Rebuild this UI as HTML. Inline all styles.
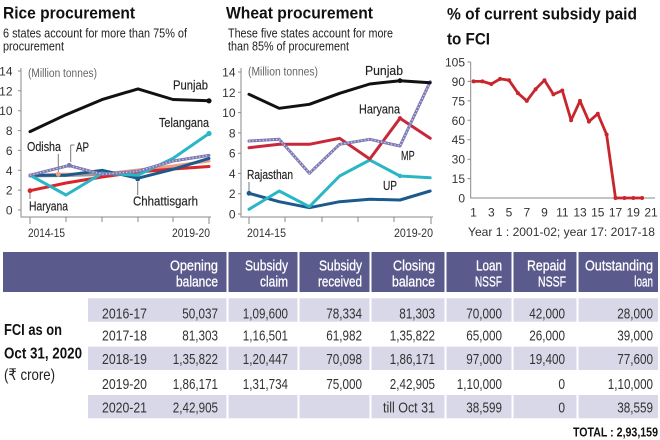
<!DOCTYPE html>
<html><head><meta charset="utf-8">
<style>
html,body{margin:0;padding:0;background:#fff;}
svg{display:block;}
text{font-family:"Liberation Sans","DejaVu Sans",sans-serif;}
.t{font-weight:bold;fill:#111;font-size:17px;}
.s{fill:#222;font-size:12.5px;}
.lb{fill:#222;font-size:13px;stroke:#222;stroke-width:0.15;}
.tk{fill:#333;font-size:12px;}
.mu{fill:#666;font-size:11.5px;}
.hd{fill:#fff;font-size:15px;stroke:#fff;stroke-width:0.3;}
.td{fill:#333;font-size:15px;}
.ax{stroke:#8a8a8a;stroke-width:1;fill:none;}
.ln{fill:none;stroke-width:3;stroke-linejoin:round;stroke-linecap:round;}
</style></head>
<body>
<svg width="660" height="440" viewBox="0 0 660 440" xmlns="http://www.w3.org/2000/svg">
<rect width="660" height="440" fill="#fff"/>

<!-- ============ RICE ============ -->
<text class="t" x="3" y="18.5" textLength="132" lengthAdjust="spacingAndGlyphs">Rice procurement</text>
<text class="s" x="3" y="37.5" textLength="184" lengthAdjust="spacingAndGlyphs">6 states account for more than 75% of</text>
<text class="s" x="3" y="50.5" textLength="61" lengthAdjust="spacingAndGlyphs">procurement</text>

<g class="tk" text-anchor="end">
<text x="12.5" y="75.5">14</text>
<text x="12.5" y="95.3">12</text>
<text x="12.5" y="115.2">10</text>
<text x="12.5" y="135.1">8</text>
<text x="12.5" y="154.9">6</text>
<text x="12.5" y="174.8">4</text>
<text x="12.5" y="194.6">2</text>
<text x="12.5" y="214.5">0</text>
</g>
<path class="ax" d="M21 68V217H211M18 71H21M18 90.8H21M18 110.7H21M18 130.6H21M18 150.4H21M18 170.3H21M18 190.1H21M18 210H21M30 217V224M66 217V222M102 217V222M138 217V222M173 217V222M209 217V224"/>
<text class="mu" x="28" y="77" textLength="69" lengthAdjust="spacingAndGlyphs">(Million tonnes)</text>
<text class="tk" x="28" y="237" textLength="37" lengthAdjust="spacingAndGlyphs">2014-15</text>
<text class="tk" x="210" y="237" text-anchor="end" textLength="38" lengthAdjust="spacingAndGlyphs">2019-20</text>

<path d="M58.3 154V172M70.7 145V162M70.7 145H74.5M137.7 182V195M30 193V199" stroke="#777" stroke-width="1" fill="none"/>

<polyline class="ln" stroke="#e9a088" points="30,176 58,174.3 102,174 138,170 173,166 209,161"/>
<polyline class="ln" stroke="#999" points="30,176 66,175.5 102,174.5"/>
<polyline class="ln" stroke="#d8262c" points="30,190.7 66,183 102,177 138,172 173,169 209,166.5"/>
<polyline class="ln" stroke="#1d5a8c" points="30,175.2 66,175.2 102,170.3 138,178.2 173,169.3 209,158.4"/>
<polyline class="ln" stroke="#2bb6c6" points="30,175.2 66,195 102,173.3 138,175.2 173,158.4 209,133.5"/>
<polyline class="ln" stroke="#7d79b3" stroke-width="3.2" points="30,175.2 69,165.5 102,174.3 138,171.3 173,161 209,155.4"/>
<polyline fill="none" stroke="#d6d4ea" stroke-width="1.3" stroke-dasharray="1.2 2.2" points="30,175.2 69,165.5 102,174.3 138,171.3 173,161 209,155.4"/>
<polyline class="ln" stroke="#111" points="30,131.6 66,114.7 102,99.6 138,88.9 173,99.5 209,100.8"/>
<circle cx="209" cy="100.8" r="2.6" fill="#111"/>
<circle cx="209" cy="133.5" r="2.6" fill="#2bb6c6"/>
<circle cx="30" cy="190.7" r="2.4" fill="#d8262c"/>
<circle cx="58.3" cy="174.3" r="2.4" fill="#e9a088"/>
<circle cx="69.3" cy="165.3" r="2.4" fill="#7d79b3"/>
<circle cx="137.7" cy="179" r="2.4" fill="#1d5a8c"/>

<text class="lb" x="173" y="89.5" textLength="35" lengthAdjust="spacingAndGlyphs">Punjab</text>
<text class="lb" x="159" y="127" textLength="50" lengthAdjust="spacingAndGlyphs">Telangana</text>
<text class="lb" x="27" y="151" textLength="34" lengthAdjust="spacingAndGlyphs">Odisha</text>
<text class="lb" transform="translate(76,151.5) scale(0.75,1)">AP</text>
<text class="lb" x="133" y="205.5" textLength="65" lengthAdjust="spacingAndGlyphs">Chhattisgarh</text>
<text class="lb" x="29" y="210.5" textLength="39" lengthAdjust="spacingAndGlyphs">Haryana</text>

<!-- ============ WHEAT ============ -->
<text class="t" x="226" y="18.5" textLength="147" lengthAdjust="spacingAndGlyphs">Wheat procurement</text>
<text class="s" x="228" y="37.5" textLength="165" lengthAdjust="spacingAndGlyphs">These five states account for more</text>
<text class="s" x="228" y="50.5" textLength="121" lengthAdjust="spacingAndGlyphs">than 85% of procurement</text>

<g class="tk" text-anchor="end">
<text x="235.5" y="76.5">14</text>
<text x="235.5" y="96.8">12</text>
<text x="235.5" y="117.1">10</text>
<text x="235.5" y="137.4">8</text>
<text x="235.5" y="157.7">6</text>
<text x="235.5" y="177.9">4</text>
<text x="235.5" y="198.2">2</text>
<text x="235.5" y="218.5">0</text>
</g>
<path class="ax" d="M241 68V217H433M238 72H241M238 92.3H241M238 112.6H241M238 132.9H241M238 153.2H241M238 173.4H241M238 193.7H241M238 214H241M249 217V224M285 217V222M322 217V222M358 217V222M394 217V222M431 217V224"/>
<text class="mu" x="248" y="75.5" textLength="70" lengthAdjust="spacingAndGlyphs">(Million tonnes)</text>
<text class="tk" x="247" y="237" textLength="39" lengthAdjust="spacingAndGlyphs">2014-15</text>
<text class="tk" x="433" y="237" text-anchor="end" textLength="39" lengthAdjust="spacingAndGlyphs">2019-20</text>
<path d="M249 182V191" stroke="#777" stroke-width="1"/>

<polyline class="ln" stroke="#1d5a8c" points="249,193.3 279.2,201.7 309.4,207.7 339.6,201.7 369.8,199.3 400,200 430.2,191"/>
<polyline class="ln" stroke="#2bb6c6" points="249,209.3 279.2,191 309.4,206.7 339.6,176 369.8,160 400,176 430.2,177.7"/>
<polyline class="ln" stroke="#c8283a" points="249,147.7 279.2,144.3 309.4,144.3 339.6,138.3 369.8,159 400,118.3 430.2,138.3"/>
<polyline class="ln" stroke="#7d79b3" stroke-width="3.2" points="249,141 279.2,139.3 309.4,173.3 339.6,144.3 369.8,139.3 400,146 430.2,81.7"/>
<polyline fill="none" stroke="#d6d4ea" stroke-width="1.3" stroke-dasharray="1.2 2.2" points="249,141 279.2,139.3 309.4,173.3 339.6,144.3 369.8,139.3 400,146 430.2,81.7"/>
<polyline class="ln" stroke="#111" points="249,94.3 279.2,108.3 309.4,104.3 339.6,93.3 369.8,84 400,80.7 430.2,82.7"/>
<circle cx="400" cy="80.7" r="2.4" fill="#111"/>
<circle cx="249" cy="193.3" r="2.4" fill="#1d5a8c"/>
<circle cx="400" cy="176" r="2.2" fill="#2bb6c6"/>
<circle cx="400" cy="118.3" r="2.2" fill="#c8283a"/>

<text class="lb" x="365" y="75" textLength="38" lengthAdjust="spacingAndGlyphs">Punjab</text>
<text class="lb" x="359" y="113.5" textLength="41" lengthAdjust="spacingAndGlyphs">Haryana</text>
<text class="lb" transform="translate(401,160) scale(0.7,1)">MP</text>
<text class="lb" transform="translate(383,190) scale(0.78,1)">UP</text>
<text class="lb" x="247" y="179" textLength="46" lengthAdjust="spacingAndGlyphs">Rajasthan</text>

<!-- ============ SUBSIDY % ============ -->
<text class="t" x="447" y="19.3" textLength="190" lengthAdjust="spacingAndGlyphs">% of current subsidy paid</text>
<text class="t" x="447" y="44.3" textLength="43" lengthAdjust="spacingAndGlyphs">to FCI</text>
<g class="tk" text-anchor="end">
<text x="465" y="66.5">105</text>
<text x="465" y="85.9">90</text>
<text x="465" y="105.4">75</text>
<text x="465" y="124.8">60</text>
<text x="465" y="144.2">45</text>
<text x="465" y="163.7">30</text>
<text x="465" y="183.1">15</text>
<text x="465" y="202.5">0</text>
</g>
<path class="ax" d="M470.7 62V198H655M467.5 62H470.7M467.5 81.4H470.7M467.5 100.9H470.7M467.5 120.3H470.7M467.5 139.7H470.7M467.5 159.2H470.7M467.5 178.6H470.7"/>
<g class="tk" text-anchor="middle">
<text x="473.5" y="216.5">1</text>
<text x="491.3" y="216.5">3</text>
<text x="509" y="216.5">5</text>
<text x="526.8" y="216.5">7</text>
<text x="544.5" y="216.5">9</text>
<text x="562.3" y="216.5">11</text>
<text x="580" y="216.5">13</text>
<text x="597.8" y="216.5">15</text>
<text x="615.5" y="216.5">17</text>
<text x="633.3" y="216.5">19</text>
<text x="651" y="216.5">21</text>
</g>
<text class="tk" x="468" y="236" textLength="187" lengthAdjust="spacingAndGlyphs">Year 1 : 2001-02; year 17: 2017-18</text>
<polyline fill="none" stroke="#c8262c" stroke-width="2.8" stroke-linejoin="round" points="473.5,81.4 482.4,81.4 491.3,84 500.1,78.9 509,80.2 517.9,93.1 526.8,100.9 535.6,89.2 544.5,80.2 553.4,94.4 562.3,90.5 571.1,120.3 580,100.9 588.9,121.6 597.8,113.8 606.6,134.5 615.5,198 624.4,198 633.3,198 642.1,198"/>
<g fill="#c8262c">
<circle cx="473.5" cy="81.4" r="2"/><circle cx="482.4" cy="81.4" r="2"/><circle cx="491.3" cy="84" r="2"/><circle cx="500.1" cy="78.9" r="2"/><circle cx="509" cy="80.2" r="2"/><circle cx="517.9" cy="93.1" r="2"/><circle cx="526.8" cy="100.9" r="2"/><circle cx="535.6" cy="89.2" r="2"/><circle cx="544.5" cy="80.2" r="2"/><circle cx="553.4" cy="94.4" r="2"/><circle cx="562.3" cy="90.5" r="2"/><circle cx="571.1" cy="120.3" r="2"/><circle cx="580" cy="100.9" r="2"/><circle cx="588.9" cy="121.6" r="2"/><circle cx="597.8" cy="113.8" r="2"/><circle cx="606.6" cy="134.5" r="2"/><circle cx="615.5" cy="198" r="2"/><circle cx="624.4" cy="198" r="2"/><circle cx="633.3" cy="198" r="2"/><circle cx="642.1" cy="198" r="2"/>
</g>

<!-- ============ TABLE ============ -->
<rect x="3" y="252" width="655" height="40" fill="#5b5a8c"/>
<rect x="88" y="298.3" width="570" height="23.4" fill="#d9d8e9"/>
<rect x="88" y="346.7" width="570" height="23.3" fill="#d9d8e9"/>
<rect x="88" y="395" width="570" height="23.3" fill="#d9d8e9"/>
<g fill="#fff">
<rect x="226.5" y="252" width="2" height="170"/>
<rect x="297.5" y="252" width="2" height="170"/>
<rect x="369.5" y="252" width="2" height="170"/>
<rect x="444.5" y="252" width="2" height="170"/>
<rect x="511.5" y="252" width="2" height="170"/>
<rect x="576.5" y="252" width="2" height="170"/>
</g>

<g class="hd" text-anchor="end">
<text x="218" y="270.5" textLength="48" lengthAdjust="spacingAndGlyphs">Opening</text>
<text x="218" y="286.5" textLength="42" lengthAdjust="spacingAndGlyphs">balance</text>
<text x="288" y="270.5" textLength="43" lengthAdjust="spacingAndGlyphs">Subsidy</text>
<text x="288" y="286.5" textLength="28" lengthAdjust="spacingAndGlyphs">claim</text>
<text x="362" y="270.5" textLength="43" lengthAdjust="spacingAndGlyphs">Subsidy</text>
<text x="362" y="286.5" textLength="44" lengthAdjust="spacingAndGlyphs">received</text>
<text x="435" y="270.5" textLength="42" lengthAdjust="spacingAndGlyphs">Closing</text>
<text x="435" y="286.5" textLength="43" lengthAdjust="spacingAndGlyphs">balance</text>
<text transform="translate(502,270.5) scale(0.78,1)">Loan</text>
<text transform="translate(502,286.5) scale(0.68,1)">NSSF</text>
<text x="566" y="270.5" textLength="39" lengthAdjust="spacingAndGlyphs">Repaid</text>
<text transform="translate(566,286.5) scale(0.7,1)">NSSF</text>
<text x="653" y="270.5" textLength="68" lengthAdjust="spacingAndGlyphs">Outstanding</text>
<text transform="translate(653,286.5) scale(0.66,1)">loan</text>
</g>

<g class="td">
<text x="102" y="318.3" textLength="45" lengthAdjust="spacingAndGlyphs">2016-17</text>
<text x="102" y="340.7" textLength="45" lengthAdjust="spacingAndGlyphs">2017-18</text>
<text x="102" y="364" textLength="45" lengthAdjust="spacingAndGlyphs">2018-19</text>
<text x="102" y="389" textLength="45" lengthAdjust="spacingAndGlyphs">2019-20</text>
<text x="102" y="412.7" textLength="45" lengthAdjust="spacingAndGlyphs">2020-21</text>
</g>

<g class="td" text-anchor="end">
<text x="218" y="318.3" textLength="35.8" lengthAdjust="spacingAndGlyphs">50,037</text>
<text x="288" y="318.3" textLength="45.2" lengthAdjust="spacingAndGlyphs">1,09,600</text>
<text x="362" y="318.3" textLength="35.8" lengthAdjust="spacingAndGlyphs">78,334</text>
<text x="435" y="318.3" textLength="35.8" lengthAdjust="spacingAndGlyphs">81,303</text>
<text x="502" y="318.3" textLength="35.8" lengthAdjust="spacingAndGlyphs">70,000</text>
<text x="565" y="318.3" textLength="35.8" lengthAdjust="spacingAndGlyphs">42,000</text>
<text x="653" y="318.3" textLength="35.8" lengthAdjust="spacingAndGlyphs">28,000</text>

<text x="218" y="340.7" textLength="35.8" lengthAdjust="spacingAndGlyphs">81,303</text>
<text x="288" y="340.7" textLength="45.2" lengthAdjust="spacingAndGlyphs">1,16,501</text>
<text x="362" y="340.7" textLength="35.8" lengthAdjust="spacingAndGlyphs">61,982</text>
<text x="435" y="340.7" textLength="45.2" lengthAdjust="spacingAndGlyphs">1,35,822</text>
<text x="502" y="340.7" textLength="35.8" lengthAdjust="spacingAndGlyphs">65,000</text>
<text x="565" y="340.7" textLength="35.8" lengthAdjust="spacingAndGlyphs">26,000</text>
<text x="653" y="340.7" textLength="35.8" lengthAdjust="spacingAndGlyphs">39,000</text>

<text x="218" y="364" textLength="45.2" lengthAdjust="spacingAndGlyphs">1,35,822</text>
<text x="288" y="364" textLength="45.2" lengthAdjust="spacingAndGlyphs">1,20,447</text>
<text x="362" y="364" textLength="35.8" lengthAdjust="spacingAndGlyphs">70,098</text>
<text x="435" y="364" textLength="45.2" lengthAdjust="spacingAndGlyphs">1,86,171</text>
<text x="502" y="364" textLength="35.8" lengthAdjust="spacingAndGlyphs">97,000</text>
<text x="565" y="364" textLength="35.8" lengthAdjust="spacingAndGlyphs">19,400</text>
<text x="653" y="364" textLength="35.8" lengthAdjust="spacingAndGlyphs">77,600</text>

<text x="218" y="389" textLength="45.2" lengthAdjust="spacingAndGlyphs">1,86,171</text>
<text x="288" y="389" textLength="45.2" lengthAdjust="spacingAndGlyphs">1,31,734</text>
<text x="362" y="389" textLength="35.8" lengthAdjust="spacingAndGlyphs">75,000</text>
<text x="435" y="389" textLength="45.2" lengthAdjust="spacingAndGlyphs">2,42,905</text>
<text x="502" y="389" textLength="45.2" lengthAdjust="spacingAndGlyphs">1,10,000</text>
<text transform="translate(565,389) scale(0.8,1)">0</text>
<text x="653" y="389" textLength="45.2" lengthAdjust="spacingAndGlyphs">1,10,000</text>

<text x="218" y="412.7" textLength="45.2" lengthAdjust="spacingAndGlyphs">2,42,905</text>
<text x="435" y="412.7" textLength="52" lengthAdjust="spacingAndGlyphs">till Oct 31</text>
<text x="502" y="412.7" textLength="35.8" lengthAdjust="spacingAndGlyphs">38,599</text>
<text transform="translate(565,412.7) scale(0.8,1)">0</text>
<text x="653" y="412.7" textLength="35.8" lengthAdjust="spacingAndGlyphs">38,559</text>
</g>

<text x="4" y="335" font-size="16" font-weight="bold" fill="#111" textLength="58" lengthAdjust="spacingAndGlyphs">FCI as on</text>
<text x="4" y="358.5" font-size="16" font-weight="bold" fill="#111" textLength="78" lengthAdjust="spacingAndGlyphs">Oct 31, 2020</text>
<text x="4" y="380" font-size="16" fill="#222" textLength="51" lengthAdjust="spacingAndGlyphs">(₹ crore)</text>

<text x="658" y="436.5" text-anchor="end" font-size="13" font-weight="bold" fill="#111" textLength="85" lengthAdjust="spacingAndGlyphs">TOTAL : 2,93,159</text>
</svg>
</body></html>
